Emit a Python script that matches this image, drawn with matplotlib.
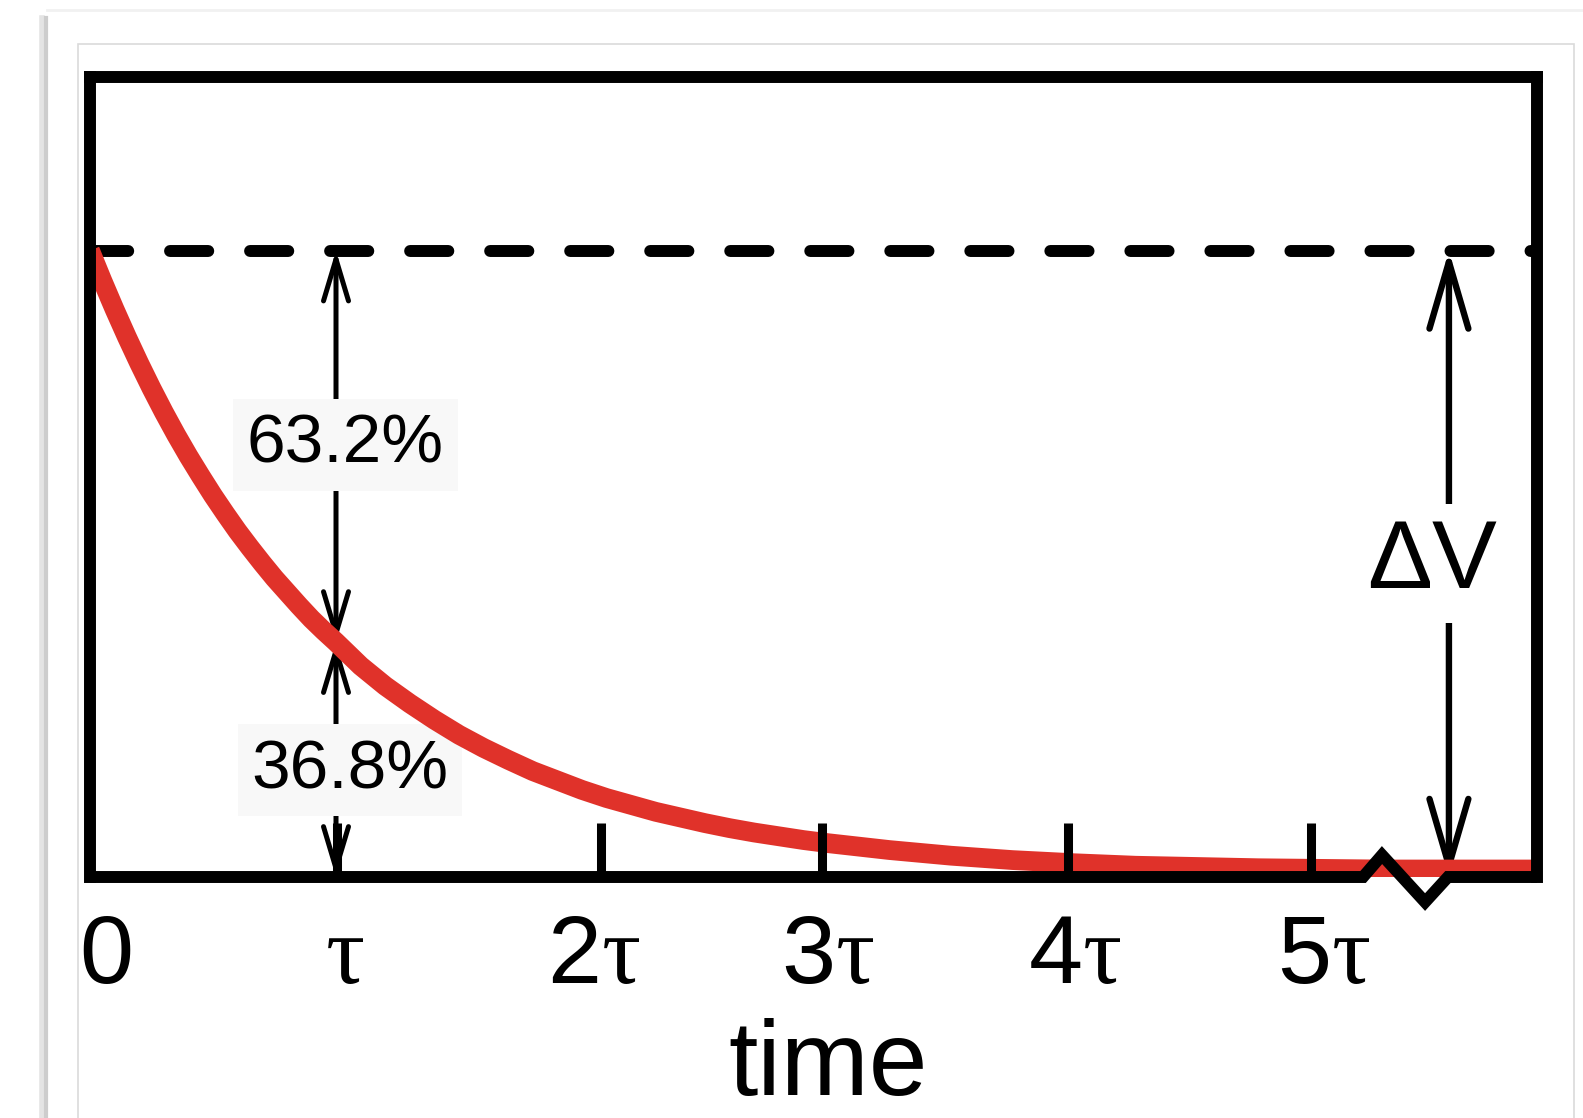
import matplotlib
matplotlib.use('Agg')
import matplotlib.pyplot as plt
from matplotlib.lines import Line2D
from matplotlib.patches import Rectangle

plt.rcParams['font.family'] = ['Liberation Sans', 'DejaVu Sans']
plt.rcParams['mathtext.fontset'] = 'custom'
plt.rcParams['mathtext.rm'] = 'Liberation Serif'
plt.rcParams['mathtext.it'] = 'Liberation Serif'

# discharge curve, time in units of tau, voltage as fraction of dV
t_vals = [0, 0.05, 0.1, 0.15, 0.2, 0.25, 0.3, 0.35, 0.4, 0.45, 0.5, 0.55, 0.6, 0.65,
          0.7, 0.75, 0.8, 0.85, 0.9, 0.95, 1.0, 1.1, 1.2, 1.3, 1.4, 1.5, 1.6, 1.7, 1.8,
          1.9, 2.0, 2.1, 2.2, 2.3, 2.4, 2.5, 2.6, 2.7, 2.8, 2.9, 3.0, 3.25, 3.5, 3.75,
          4.0, 4.25, 4.5, 4.75, 5.0, 5.25, 5.5, 5.9]
v_vals = [1.0, 0.952, 0.906, 0.862, 0.82, 0.78, 0.742, 0.706, 0.672, 0.64, 0.609, 0.58,
          0.552, 0.526, 0.501, 0.477, 0.455, 0.433, 0.412, 0.393, 0.375, 0.337, 0.305,
          0.277, 0.251, 0.227, 0.206, 0.187, 0.169, 0.154, 0.139, 0.126, 0.115, 0.104,
          0.095, 0.086, 0.078, 0.071, 0.065, 0.059, 0.054, 0.043, 0.034, 0.027, 0.022,
          0.018, 0.016, 0.014, 0.013, 0.012, 0.012, 0.012]

tick_pos = [1.004, 2.077, 2.976, 3.976, 4.963]
label_pos = [0.065, 1.033, 2.045, 3.0, 4.004, 5.016]
label_txt = ['0', r'$\tau$', r'2$\tau$', r'3$\tau$', r'4$\tau$', r'5$\tau$']

tau_x = 1.0
dv_x = 5.524
# baseline with the axis-break zigzag
break_x = [0, 5.175, 5.252, 5.427, 5.52, 5.882]
break_y = [0, 0, 0.035, -0.04, 0, 0]

x_max = 5.882
y_max = 1.277

RED = '#e0322a'

fig = plt.figure(figsize=(15.83, 11.18), dpi=100)

# screenshot frame / shadow
fig.add_artist(Line2D([0.0265, 0.0265], [0, 0.984], transform=fig.transFigure,
                      color='#e4e4e4', lw=4))
fig.add_artist(Line2D([0.029, 0.029], [0, 0.984], transform=fig.transFigure,
                      color='#cdcdcd', lw=3))
fig.add_artist(Line2D([0.03, 1.0], [0.991, 0.991], transform=fig.transFigure,
                      color='#f1f1f1', lw=2))
fig.add_artist(Rectangle((78 / 1583, -0.01), (1574 - 78) / 1583, 1.01 - 44 / 1118,
                         transform=fig.transFigure, fill=False, edgecolor='#dadada', lw=1.2))

ax = fig.add_axes([90 / 1583, 1 - 877 / 1118, 1447 / 1583, 800 / 1118])
ax.set_xlim(0, x_max)
ax.set_ylim(0, y_max)
ax.set_axisbelow(False)

for s in ['left', 'top', 'right']:
    ax.spines[s].set_linewidth(8.6)
ax.spines['bottom'].set_visible(False)

ax.set_yticks([])
ax.set_xticks(tick_pos)
ax.set_xticklabels([])
ax.tick_params(axis='x', direction='in', length=39, width=6.5, color='black')

# baseline with zigzag
ax.plot(break_x, break_y, color='black', lw=8.6, clip_on=False, zorder=2.6,
        solid_joinstyle='miter', solid_capstyle='butt')

# initial voltage level
ax.axhline(1.0, color='black', lw=8.6, dashes=(3.2, 3.5), dash_capstyle='round', zorder=2.0)

# red decay curve
ax.plot(t_vals, v_vals, color=RED, lw=14.2, zorder=2.3, solid_capstyle='butt',
        solid_joinstyle='round')

v_tau = v_vals[t_vals.index(tau_x)]
small = dict(arrowstyle='<->,head_length=30,head_width=9', mutation_scale=1,
             lw=3.6, color='black', shrinkA=0, shrinkB=0)
ax.annotate('', xy=(tau_x, 1.0), xytext=(tau_x, v_tau), arrowprops=small, zorder=2.1)
ax.annotate('', xy=(tau_x, v_tau), xytext=(tau_x, 0.0), arrowprops=small, zorder=2.1)

big = dict(arrowstyle='<->,head_length=48,head_width=14', mutation_scale=1,
           lw=4.6, color='black', shrinkA=0, shrinkB=0)
ax.annotate('', xy=(dv_x, 1.0), xytext=(dv_x, 0.0), arrowprops=big, zorder=2.1)

ax.text(1.037, 0.661, '63.2%', fontsize=50, ha='center', va='baseline', zorder=2.2,
        bbox=dict(boxstyle='square,pad=0.2', facecolor='#f8f8f8', edgecolor='none'))
ax.text(1.057, 0.142, '36.8%', fontsize=50, ha='center', va='baseline', zorder=2.2,
        bbox=dict(boxstyle='square,pad=0.2', facecolor='#f8f8f8', edgecolor='none'))
ax.text(5.455, 0.461, '\u0394V', fontsize=70, ha='center', va='baseline', zorder=2.2,
        bbox=dict(boxstyle='square,pad=0.15', facecolor='white', edgecolor='none'))

# tick labels and axis title
trans = ax.get_xaxis_transform()
for xp, txt in zip(label_pos, label_txt):
    ax.text(xp, -0.1325, txt, fontsize=70, ha='center', va='baseline', transform=trans)
ax.text(3.0, -0.273, 'time', fontsize=76, ha='center', va='baseline', transform=trans)

fig.savefig('out.png', dpi=100)
